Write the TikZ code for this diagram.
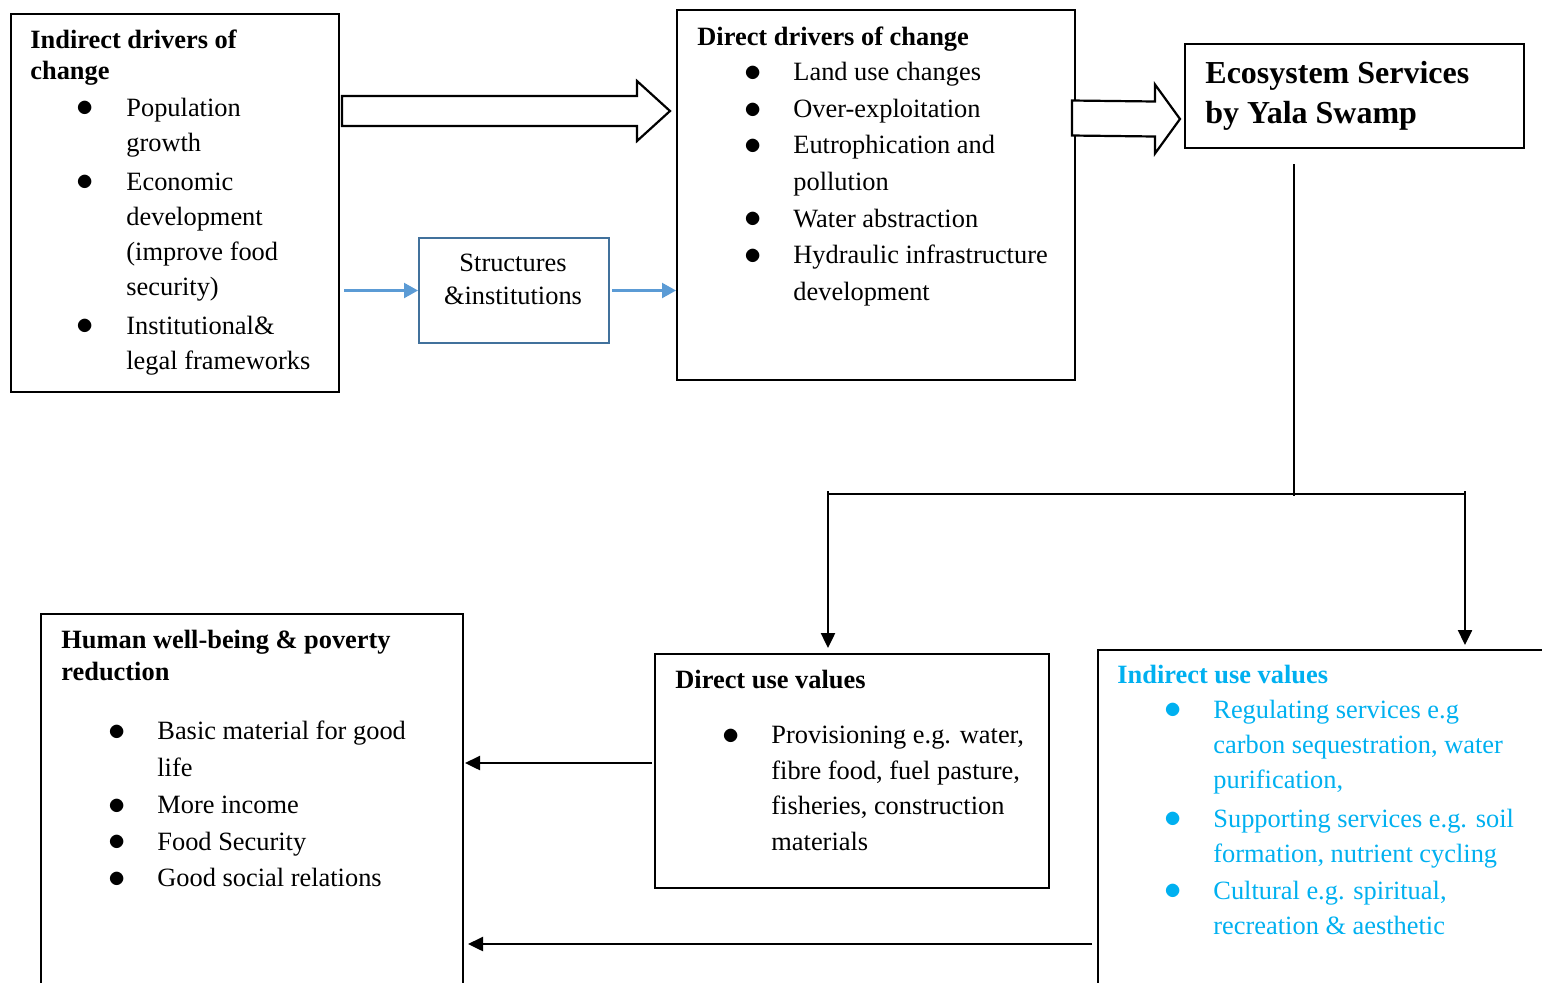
\documentclass[tikz,border=0pt]{standalone}
\usepackage{fontspec}
\setmainfont{Liberation Serif}
\usetikzlibrary{arrows.meta,calc}

\definecolor{usecyan}{HTML}{00B0F0}
\definecolor{structblue}{HTML}{41719C}
\definecolor{linkblue}{HTML}{5B9BD5}

\newcommand{\bitem}[1]{\hspace*{23.3pt}\makebox[24.7pt][l]{\raisebox{-0.4pt}{\fontsize{16}{16}\selectfont$\bullet$}}#1}
\newcommand{\bcont}[1]{\hspace*{48pt}#1}
% tail, tip, half shaft, half head, head length
\newcommand{\fatarrow}[5]{%
  \draw[fat] ($(#1)+(0,-#3)$) -- ($(#2)+(-#5,-#3)$) -- ($(#2)+(-#5,-#4)$) -- (#2)
    -- ($(#2)+(-#5,#4)$) -- ($(#2)+(-#5,#3)$) -- ($(#1)+(0,#3)$) -- cycle;}

\tikzset{
  box/.style={draw, line width=1pt, inner sep=0pt, anchor=north west},
  txt/.style={anchor=base west, inner sep=0pt, font=\fontsize{13.2}{#1}\selectfont},
  txt/.default=18pt,
  fat/.style={-, draw, line width=1.1pt, fill=white, line join=miter},
  link/.style={line width=1.2pt},
  bluelink/.style={linkblue, line width=1.1pt, -{Triangle[length=7pt,width=7.5pt]}}
}

\begin{document}
\begin{tikzpicture}[->,>={Triangle[length=7.5pt,width=7pt]},x=0.5pt,y=-0.5pt]

  \useasboundingbox (0,0) rectangle (1542,982);
  \clip (0,0) rectangle (1542,982);

  % boxes
  \node[box, minimum width=164pt, minimum height=189pt] (indirect) at (10,13) {};
  \node[box, minimum width=199pt, minimum height=185pt] (direct) at (676,9) {};
  \node[box, minimum width=169.5pt, minimum height=52pt] (eco) at (1184,43) {};
  \node[box, structblue, minimum width=95pt, minimum height=52.5pt] (structures) at (418,237) {};
  \node[box, minimum width=211pt, minimum height=200pt] (human) at (40,613) {};
  \node[box, minimum width=197pt, minimum height=117pt] (directuse) at (654,653) {};
  \node[box, minimum width=250pt, minimum height=180pt] (induse) at (1097,649) {};

  % texts
  \node[txt=17.5pt] (indirecttxt) at (30,48) {\begin{tabular}[t]{@{}l@{}}
    \textbf{Indirect drivers of}\\[-2pt]
    \textbf{change}\\[1pt]
    \bitem{Population}\\
    \bcont{growth}\\[2pt]
    \bitem{Economic}\\
    \bcont{development}\\
    \bcont{(improve food}\\
    \bcont{security)}\\[2pt]
    \bitem{Institutional\&}\\
    \bcont{legal frameworks}
  \end{tabular}};

  \node[txt=18.3pt] (directtxt) at (697,45) {\begin{tabular}[t]{@{}l@{}}
    \textbf{Direct drivers of change}\\[-0.5pt]
    \bitem{Land use changes}\\
    \bitem{Over-exploitation}\\
    \bitem{Eutrophication and}\\
    \bcont{pollution}\\
    \bitem{Water abstraction}\\
    \bitem{Hydraulic infrastructure}\\
    \bcont{development}
  \end{tabular}};

  \node[txt, font=\fontsize{16}{20pt}\selectfont\bfseries] (ecotxt) at (1205,83)
    {\begin{tabular}[t]{@{}l@{}}Ecosystem Services\\ by Yala Swamp\end{tabular}};

  \node[txt=16.5pt, anchor=base] (structtxt) at (513,271)
    {\begin{tabular}[t]{@{}c@{}}Structures\\ \&institutions\end{tabular}};

  \node[txt=18.4pt] (humantxt) at (61,648) {\begin{tabular}[t]{@{}l@{}}
    \textbf{Human well-being \& poverty}\\[-2pt]
    \textbf{reduction}\\[11pt]
    \bitem{Basic material for good}\\
    \bcont{life}\\
    \bitem{More income}\\
    \bitem{Food Security}\\
    \bitem{Good social relations}
  \end{tabular}};

  \node[txt=17.8pt] (directusetxt) at (675,688) {\begin{tabular}[t]{@{}l@{}}
    \textbf{Direct use values}\\[10pt]
    \bitem{Provisioning e.g. water,}\\
    \bcont{fibre food, fuel pasture,}\\
    \bcont{fisheries, construction}\\
    \bcont{materials}
  \end{tabular}};

  \node[txt=17.5pt, text=usecyan] (indusetxt) at (1117,683) {\begin{tabular}[t]{@{}l@{}}
    \textbf{Indirect use values}\\
    \bitem{Regulating services e.g}\\
    \bcont{carbon sequestration, water}\\
    \bcont{purification,}\\[2pt]
    \bitem{Supporting services e.g. soil}\\
    \bcont{formation, nutrient cycling}\\[1pt]
    \bitem{Cultural e.g. spiritual,}\\
    \bcont{recreation \& aesthetic}
  \end{tabular}};

  % block arrows
  \coordinate (fa1s) at ($(indirect.north east)+(2,98)$);
  \coordinate (fa1e) at ($(direct.north west)+(-6,102)$);
  \fatarrow{fa1s}{fa1e}{15}{30}{33}
  \coordinate (fa2s) at ($(direct.north east)+(-4,109)$);
  \coordinate (fa2e) at ($(eco.west)+(-4,23)$);
  \fatarrow{fa2s}{fa2e}{17.5}{34.5}{25}

  % blue links
  \path ([xshift=2pt]indirect.east |- structures.west) edge[bluelink] (structures.west)
        ([xshift=1pt]structures.east) edge[bluelink] (direct.west |- structures.east);

  % split to the two kinds of values
  \coordinate (esdrop) at ($(eco.south west)+(110,15)$);
  \coordinate (split) at (esdrop |- 0,496);
  \coordinate (barl) at (828,494);
  \coordinate (barr) at (1465,494);
  \draw[link,-] (esdrop) -- (split);
  \draw[link,-] ($(barl)+(-1,0)$) -- ($(barr)+(1,0)$);
  \draw[link,shorten >=2.5pt] ($(barl)+(0,-3)$) -- (barl |- directuse.north);
  \draw[link,shorten >=2pt] ($(barr)+(0,-3)$) -- (barr |- induse.north);

  % back to well-being
  \coordinate (dv) at ($(directuse.west)+(-2,-8)$);
  \draw[link,shorten >=0.5pt] (dv) -- (dv -| human.east);
  \coordinate (iv) at ($(induse.west |- 0,944)+(-5,0)$);
  \draw[link,shorten >=2pt] (iv) -- (iv -| human.east);

\end{tikzpicture}
\end{document}
